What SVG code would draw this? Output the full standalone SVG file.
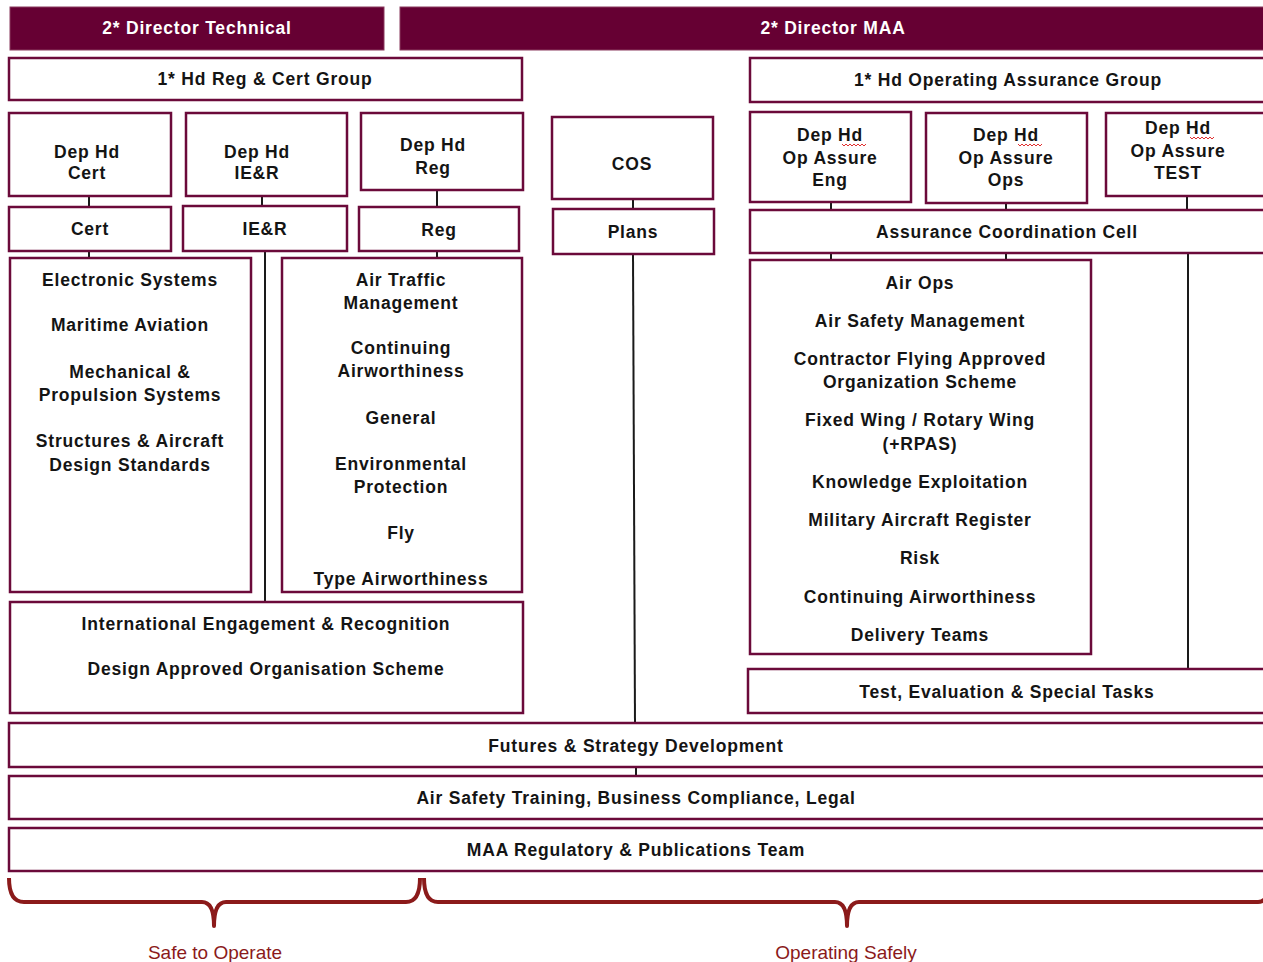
<svg xmlns="http://www.w3.org/2000/svg" width="1263" height="962" viewBox="0 0 1263 962">
<style>
.box{fill:#fff;stroke:#6b0a3a;stroke-width:2.5}
.hdr{fill:#660033;stroke:#8a3a5e;stroke-width:1}
.t{font-family:"Liberation Sans",Arial,sans-serif;font-weight:bold;font-size:17.5px;letter-spacing:0.8px;fill:#141414;text-anchor:middle}
.w{fill:#fff}
.c{stroke:#1a1a1a;stroke-width:2;fill:none}
.brace{stroke:#8b1a1a;stroke-width:4;fill:none;stroke-linejoin:round}
.lab{font-family:"Liberation Sans",Arial,sans-serif;font-size:19px;fill:#8b1a1a;text-anchor:middle}
.sq{stroke:#e03030;stroke-width:1;fill:none}
</style>
<rect width="1263" height="962" fill="#fff"/>
<g id="connectors">
<line class="c" x1="89" y1="196" x2="89" y2="207"/>
<line class="c" x1="262" y1="196" x2="262" y2="206"/>
<line class="c" x1="437" y1="190" x2="437" y2="207"/>
<line class="c" x1="633" y1="199" x2="633" y2="209"/>
<line class="c" x1="831" y1="202" x2="831" y2="210"/>
<line class="c" x1="1006" y1="203" x2="1006" y2="210"/>
<line class="c" x1="1187" y1="196" x2="1187" y2="210"/>
<line class="c" x1="89" y1="251" x2="89" y2="258"/>
<line class="c" x1="265" y1="251" x2="265" y2="602"/>
<line class="c" x1="437" y1="251" x2="437" y2="258"/>
<line class="c" x1="633" y1="254" x2="635" y2="723"/>
<line class="c" x1="831" y1="253" x2="831" y2="260"/>
<line class="c" x1="1006" y1="253" x2="1006" y2="260"/>
<line class="c" x1="1188" y1="253" x2="1188" y2="669"/>
<line class="c" x1="636" y1="767" x2="636" y2="776"/>
</g>
<g id="dir-tech"><rect class="hdr" x="10" y="7" width="374" height="43"/><text class="t w" x="197" y="34">2* Director Technical</text></g>
<g id="dir-maa"><rect class="hdr" x="400" y="7" width="875" height="43"/><text class="t w" x="833" y="34">2* Director MAA</text></g>
<g id="hd-reg-cert"><rect class="box" x="9" y="58" width="513" height="42"/><text class="t" x="265" y="85">1* Hd Reg &amp; Cert Group</text></g>
<g id="hd-op-assure"><rect class="box" x="750" y="58" width="525" height="44"/><text class="t" x="1008" y="86">1* Hd Operating Assurance Group</text></g>
<g id="dep-cert"><rect class="box" x="9" y="113" width="162" height="83"/><text class="t" x="87" y="158">Dep Hd</text><text class="t" x="87" y="179">Cert</text></g>
<g id="dep-ier"><rect class="box" x="186" y="113" width="161" height="83"/><text class="t" x="257" y="158">Dep Hd</text><text class="t" x="257" y="179">IE&amp;R</text></g>
<g id="dep-reg"><rect class="box" x="361" y="113" width="162" height="77"/><text class="t" x="433" y="151">Dep Hd</text><text class="t" x="433" y="174">Reg</text></g>
<g id="cos"><rect class="box" x="552" y="117" width="161" height="82"/><text class="t" x="632" y="170">COS</text></g>
<g id="dep-eng"><rect class="box" x="750" y="112" width="161" height="90"/><text class="t" x="830" y="141">Dep Hd</text><text class="t" x="830" y="164">Op Assure</text><text class="t" x="830" y="186">Eng</text><path class="sq" d="M842 144 l2 2 l2 -2 l2 2 l2 -2 l2 2 l2 -2 l2 2 l2 -2 l2 2 l2 -2 l2 2 l2 -2"/></g>
<g id="dep-ops"><rect class="box" x="926" y="113" width="161" height="90"/><text class="t" x="1006" y="141">Dep Hd</text><text class="t" x="1006" y="164">Op Assure</text><text class="t" x="1006" y="186">Ops</text><path class="sq" d="M1018 144 l2 2 l2 -2 l2 2 l2 -2 l2 2 l2 -2 l2 2 l2 -2 l2 2 l2 -2 l2 2 l2 -2"/></g>
<g id="dep-test"><rect class="box" x="1106" y="113" width="169" height="83"/><text class="t" x="1178" y="134">Dep Hd</text><text class="t" x="1178" y="157">Op Assure</text><text class="t" x="1178" y="179">TEST</text><path class="sq" d="M1190 137 l2 2 l2 -2 l2 2 l2 -2 l2 2 l2 -2 l2 2 l2 -2 l2 2 l2 -2 l2 2 l2 -2"/></g>
<g id="cert"><rect class="box" x="9" y="207" width="162" height="44"/><text class="t" x="90" y="235">Cert</text></g>
<g id="ier"><rect class="box" x="183" y="206" width="164" height="45"/><text class="t" x="265" y="235">IE&amp;R</text></g>
<g id="reg"><rect class="box" x="359" y="207" width="160" height="44"/><text class="t" x="439" y="236">Reg</text></g>
<g id="plans"><rect class="box" x="553" y="209" width="161" height="45"/><text class="t" x="633" y="238">Plans</text></g>
<g id="acc"><rect class="box" x="750" y="210" width="525" height="43"/><text class="t" x="1007" y="238">Assurance Coordination Cell</text></g>
<g id="cert-list"><rect class="box" x="10" y="258" width="241" height="334"/>
<text class="t" x="130" y="286">Electronic Systems</text>
<text class="t" x="130" y="331">Maritime Aviation</text>
<text class="t" x="130" y="378">Mechanical &amp;</text>
<text class="t" x="130" y="401">Propulsion Systems</text>
<text class="t" x="130" y="447">Structures &amp; Aircraft</text>
<text class="t" x="130" y="471">Design Standards</text></g>
<g id="reg-list"><rect class="box" x="282" y="258" width="240" height="334"/>
<text class="t" x="401" y="286">Air Traffic</text>
<text class="t" x="401" y="309">Management</text>
<text class="t" x="401" y="354">Continuing</text>
<text class="t" x="401" y="377">Airworthiness</text>
<text class="t" x="401" y="424">General</text>
<text class="t" x="401" y="470">Environmental</text>
<text class="t" x="401" y="493">Protection</text>
<text class="t" x="401" y="539">Fly</text>
<text class="t" x="401" y="585">Type Airworthiness</text></g>
<g id="ier-list"><rect class="box" x="10" y="602" width="513" height="111"/>
<text class="t" x="266" y="630">International Engagement &amp; Recognition</text>
<text class="t" x="266" y="675">Design Approved Organisation Scheme</text></g>
<g id="ops-list"><rect class="box" x="750" y="260" width="341" height="394"/>
<text class="t" x="920" y="289">Air Ops</text>
<text class="t" x="920" y="327">Air Safety Management</text>
<text class="t" x="920" y="365">Contractor Flying Approved</text>
<text class="t" x="920" y="388">Organization Scheme</text>
<text class="t" x="920" y="426">Fixed Wing / Rotary Wing</text>
<text class="t" x="920" y="450">(+RPAS)</text>
<text class="t" x="920" y="488">Knowledge Exploitation</text>
<text class="t" x="920" y="526">Military Aircraft Register</text>
<text class="t" x="920" y="564">Risk</text>
<text class="t" x="920" y="603">Continuing Airworthiness</text>
<text class="t" x="920" y="641">Delivery Teams</text></g>
<g id="test-eval"><rect class="box" x="748" y="669" width="527" height="44"/><text class="t" x="1007" y="698">Test, Evaluation &amp; Special Tasks</text></g>
<g id="futures"><rect class="box" x="9" y="723" width="1266" height="44"/><text class="t" x="636" y="752">Futures &amp; Strategy Development</text></g>
<g id="training"><rect class="box" x="9" y="776" width="1266" height="43"/><text class="t" x="636" y="804">Air Safety Training, Business Compliance, Legal</text></g>
<g id="publications"><rect class="box" x="9" y="828" width="1266" height="43"/><text class="t" x="636" y="856">MAA Regulatory &amp; Publications Team</text></g>
<g id="safe-to-operate">
<path class="brace" d="M9 878 Q9 902 24 902 L202 902 Q214 902 214 926 Q214 902 226 902 L406 902 Q420 902 420 878"/>
<text class="lab" x="215" y="959">Safe to Operate</text></g>
<g id="operating-safely">
<path class="brace" d="M424 878 Q424 902 438 902 L835 902 Q847 902 847 926 Q847 902 859 902 L1258 902 Q1270 902 1270 878"/>
<text class="lab" x="846" y="959">Operating Safely</text></g>
</svg>
